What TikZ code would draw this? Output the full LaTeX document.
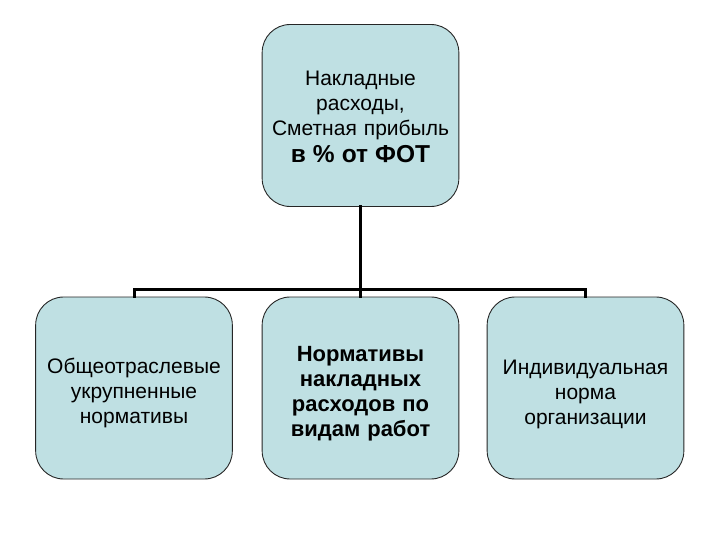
\documentclass[tikz,border=0pt]{standalone}
\usepackage{fontspec}
\setmainfont{Liberation Sans}
\usetikzlibrary{positioning}
\definecolor{blokfill}{RGB}{191,224,227}
\newcommand{\vniz}{\rule{0pt}{26pt}}% pushes the text of the lower boxes a bit down
\tikzset{
	blok/.style={draw=black!85,line width=.9pt,fill=blokfill,rounded corners=28pt,
		minimum width=195pt,minimum height=182pt,text width=190pt,align=center,
		font=\fontsize{21}{25}\selectfont},
	svyaz/.style={line width=3pt,line cap=rect}
}
\begin{document}
\begin{tikzpicture}[x=1pt,y=-1pt]
				\useasboundingbox (0,0) rectangle (720,540);
				
				\node[blok] (verh) at (360.5,115.5) {\rule{0pt}{17pt}Накладные\\расходы,\\Сметная прибыль\\[2pt]\textbf{\fontsize{24.5}{25}\selectfont в \% от ФОТ}};
				
				\node[blok] (lev) at (134,388) {\vniz Общеотраслевые\\укрупненные\\нормативы};
				\node[blok] (sred) at (360.5,388) {\fontsize{22}{25}\selectfont\textbf{\vniz Нормативы\\накладных\\расходов по\\видам работ}};
				\node[blok] (prav) at (585.5,388) {\rule{0pt}{28pt}Индивидуальная\\норма\\организации};
				
				\coordinate (razv) at (360.5,289);
				
				\draw[svyaz] (verh.south) -- (razv);
				\draw[svyaz] (lev.north) |- (razv) -| (prav.north);
				\draw[svyaz] (sred.north) -- (razv);
			\end{tikzpicture}
\end{document}
